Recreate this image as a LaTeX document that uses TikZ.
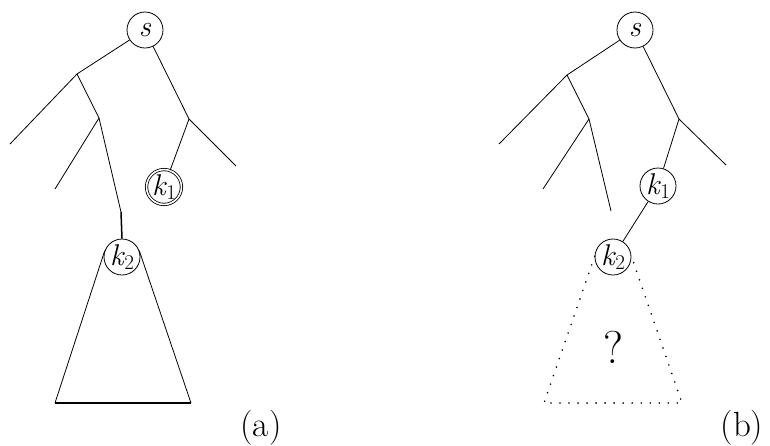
\documentclass[tikz,border=0pt]{standalone}
\usepackage{fontspec}
\setmainfont{Latin Modern Roman}
\newcommand{\kk}[1]{\textit{k}\kern-0.5pt\raisebox{-0.35ex}{\fontsize{21}{24}\selectfont #1}}
\begin{document}
\begin{tikzpicture}[x=1pt,y=-1pt,
  thin line/.style={line width=0.8pt},
  vnode/.style={circle,draw,line width=0.8pt,minimum size=36pt,inner sep=0pt,font=\fontsize{30}{34}\selectfont},
  dnode/.style={vnode,double,double distance=1.6pt,minimum size=33pt},
  dotline/.style={line width=1.8pt,dash pattern=on 0.01pt off 9pt,line cap=round},
  lab/.style={font=\fontsize{35}{40}\selectfont}]
\useasboundingbox (0,0) rectangle (770,445);
% ---------- (a) ----------
\node[vnode] (s1) at (145,30) {\textit{s}};
\node[dnode] (k1a) at (164,187) {\kk{1}};
\node[vnode] (k2a) at (122,257) {\kk{2}};
\coordinate (a1) at (77,74);
\coordinate (a2) at (99,118);
\coordinate (al1) at (10,144);
\coordinate (al2) at (55,189);
\coordinate (ac) at (121,212);
\coordinate (b1) at (189,119);
\coordinate (bl1) at (236,166);
\coordinate (tl) at (55,403);
\coordinate (tr) at (191,403);
\draw[thin line] (s1) -- (a1) -- (al1);
\draw[thin line] (a1) -- (a2) -- (al2);
\draw[thin line] (a2) -- (ac);
\draw[line width=1.5pt] (ac) -- (k2a.north);
\draw[thin line] (s1) -- (b1) -- (bl1);
\draw[thin line] (b1) -- (k1a);
\draw[thin line] (k2a.160) -- (tl);
\draw[thin line] (k2a.20) -- (tr);
\draw[line width=2.4pt] (tl) -- (tr);
\node[lab] (la) at (261,428) {(a)};
% ---------- (b) ----------
\node[vnode] (s2) at (635,30) {\textit{s}};
\node[vnode] (k1b) at (658,186) {\kk{1}};
\node[vnode] (k2b) at (613,257) {\kk{2}};
\coordinate (c1) at (567,75);
\coordinate (c2) at (589,119);
\coordinate (cl1) at (499,144);
\coordinate (cl2) at (543,189);
\coordinate (cc) at (611,211);
\coordinate (d1) at (679,119);
\coordinate (dl1) at (726,165);
\coordinate (ul) at (544,403);
\coordinate (ur) at (682,403);
\draw[thin line] (s2) -- (c1) -- (cl1);
\draw[thin line] (c1) -- (c2) -- (cl2);
\draw[thin line] (c2) -- (cc);
\draw[thin line] (s2) -- (d1) -- (dl1);
\draw[thin line] (d1) -- (k1b);
\draw[thin line] (k1b) -- (k2b);
\draw[dotline] (k2b.178) -- (ul) -- (ur) -- (k2b.2);
\node[font=\fontsize{46}{50}\selectfont] (q) at (613,347) {?};
\node[lab] (lb) at (742,428) {(b)};
\end{tikzpicture}
\end{document}
